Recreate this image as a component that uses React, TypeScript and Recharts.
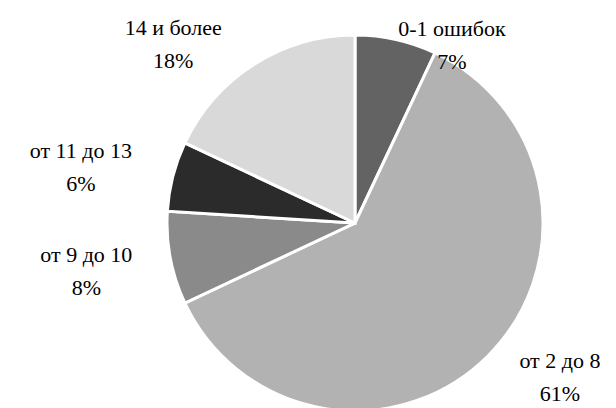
import React from 'react'
import { PieChart, Pie, Cell } from 'recharts'

const categories = ['0-1 ошибок', 'от 2 до 8', 'от 9 до 10', 'от 11 до 13', '14 и более']
const shares = [7, 61, 8, 6, 18]
const colors = ['#636363', '#b2b2b2', '#8a8a8a', '#2b2b2b', '#d9d9d9']

// where each label block sits, relative to the slice's outer edge at its mid angle
const labelNudge: [number, number][] = [
  [56, -4],
  [72, 12],
  [-84, 4],
  [-92, -18],
  [-81, -29],
]

const data = categories.map((name, i) => ({ name, value: shares[i] }))

const RADIAN = Math.PI / 180
const SERIF = "'Liberation Serif', 'Times New Roman', Times, serif"

function SliceLabel(props: any) {
  const { cx, cy, midAngle, outerRadius, index, name, value } = props
  const x = cx + outerRadius * Math.cos(-midAngle * RADIAN) + labelNudge[index][0]
  const y = cy + outerRadius * Math.sin(-midAngle * RADIAN) + labelNudge[index][1]
  return (
    <g>
      <text x={x} y={y} textAnchor="middle" fontFamily={SERIF} fontSize={22} fill="#000">
        {name}
      </text>
      <text x={x} y={y + 33} textAnchor="middle" fontFamily={SERIF} fontSize={22} fill="#000">
        {`${value}%`}
      </text>
    </g>
  )
}

export default function App() {
  return (
    <div style={{ position: 'absolute', left: 0, top: 0, width: 616, height: 408, background: '#fff' }}>
      <PieChart width={616} height={408} margin={{ top: 0, right: 0, bottom: 0, left: 0 }}>
        <Pie
          data={data}
          dataKey="value"
          nameKey="name"
          cx={355}
          cy={223}
          outerRadius={188}
          startAngle={90}
          endAngle={-270}
          stroke="#ffffff"
          strokeWidth={3}
          label={<SliceLabel />}
          labelLine={false}
          isAnimationActive={false}
        >
          {data.map((entry, i) => (
            <Cell key={entry.name} fill={colors[i]} />
          ))}
        </Pie>
      </PieChart>
    </div>
  )
}
